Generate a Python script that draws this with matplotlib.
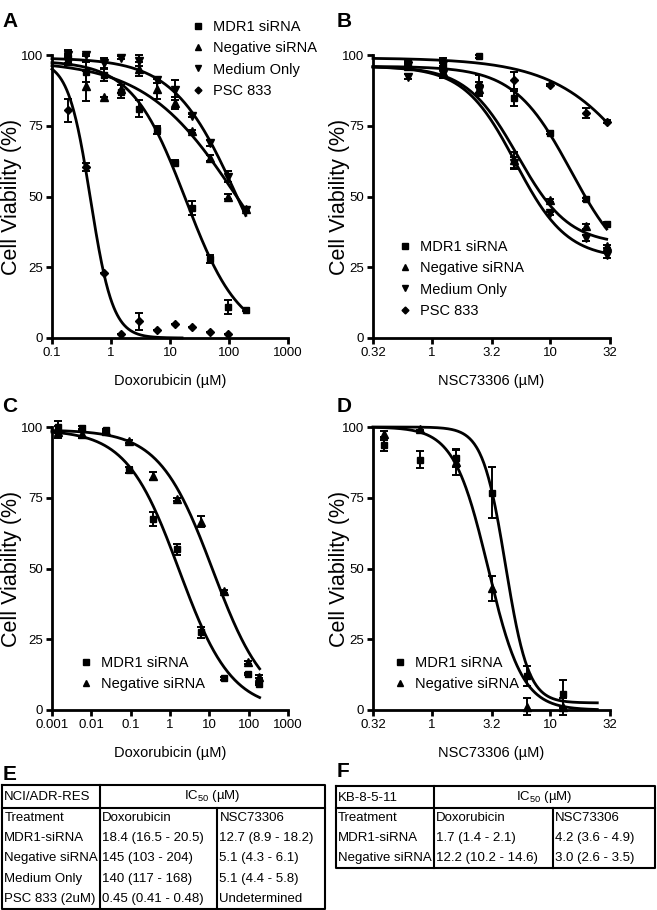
import matplotlib as mpl
mpl.use('agg')
import numpy as np
import matplotlib.pyplot as plt
from matplotlib import font_manager
from matplotlib.lines import Line2D

names = {f.name for f in font_manager.fontManager.ttflist}
narrow = 'Liberation Sans Narrow' if 'Liberation Sans Narrow' in names else 'Liberation Sans'
plt.rcParams['font.family'] = ['Liberation Sans', 'DejaVu Sans']
plt.rcParams['mathtext.fontset'] = 'custom'
plt.rcParams['mathtext.rm'] = 'Liberation Sans'
plt.rcParams['mathtext.default'] = 'regular'

# ---- panel A: NCI/ADR-RES, doxorubicin
dox_a = [0.19, 0.38, 0.75, 1.5, 3, 6, 12, 24, 48, 96, 192]
a_mdr1 = [99, 94, 93, 87, 81, 73.5, 62, 46, 28, 11, 10]
a_mdr1_err = [2.6, 3.5, 2.3, 2.3, 3, 1.5, 1, 2.4, 1.5, 2.4, 0.5]
a_neg = [98, 89, 85, 88, 95, 88, 83, 73, 63.5, 50, 45.5]
a_neg_err = [1, 5.3, 0, 1.5, 2.5, 3.5, 2, 0.5, 1, 1, 0.5]
a_med = [100, 100, 97, 99, 98, 91, 87.5, 78.5, 69, 57, 45.3]
a_med_err = [0.5, 0.5, 2, 0.5, 2, 1, 3.5, 0.5, 1, 2, 0.5]
dox_a_psc = [0.19, 0.38, 0.75, 1.5, 3, 6, 12, 24, 48, 96]
a_psc = [80.5, 60.5, 23, 1.4, 6, 3, 5, 4, 2, 1.4]
a_psc_err = [4, 1.5, 0, 0, 3, 0, 0, 0, 0, 0]
# fitted curves: top, bottom, midpoint, hill slope
fit_a_mdr1 = (98, 0, 18.4, 0.95)
fit_a_neg = (98, 0, 145, 0.55)
fit_a_med = (99, 0, 140, 0.8)
fit_a_psc = (98, 0, 0.45, 2.3)

# ---- panel B: NCI/ADR-RES, NSC73306
nsc_b = [0.63, 1.25, 2.5, 5, 10, 20, 30]
b_mdr1 = [97, 96.5, 99.6, 84.7, 72.6, 49, 40.4]
b_mdr1_err = [0.5, 1, 0.5, 2.6, 0.5, 0.5, 0.5]
b_neg = [96, 94, 88, 63, 48.6, 39.4, 32.4]
b_neg_err = [1, 2, 2.5, 2.9, 0.5, 1, 0.5]
b_med = [92.4, 93.3, 87.6, 61.8, 44, 35.3, 29.4]
b_med_err = [1, 1.5, 1, 2, 0.5, 1, 1]
b_psc = [97.6, 98, 89.4, 91, 89.4, 79.6, 76.5]
b_psc_err = [0.5, 1, 3.5, 3, 0.5, 1.8, 0.5]
fit_b_mdr1 = (96, 22, 15, 1.8)
fit_b_neg = (96, 33, 5.3, 2.0)
fit_b_med = (96, 28, 5.1, 2.0)
fit_b_psc = (99, 0, 90, 1.1)

# ---- panel C: KB-8-5-11, doxorubicin
dox_c = [0.0014, 0.0057, 0.023, 0.09, 0.37, 1.5, 6, 23, 94, 188]
c_mdr1 = [100, 99.8, 98.8, 84.7, 67.5, 56.8, 27.4, 11.2, 12.7, 9.2]
c_mdr1_err = [2, 0.5, 0.5, 1, 2.5, 2, 2, 0.5, 0.5, 0.5]
c_neg = [98.2, 97.6, 98.6, 95, 82.6, 74.4, 66.5, 42, 16.8, 11.8]
c_neg_err = [2, 1.5, 0.5, 0.5, 1.5, 0.5, 2, 0.5, 0.5, 0.5]
fit_c_mdr1 = (99, 0, 1.7, 0.65)
fit_c_neg = (99, 0, 12.2, 0.64)

# ---- panel D: KB-8-5-11, NSC73306
nsc_d = [0.4, 0.8, 1.6, 3.2, 6.4, 12.8]
d_mdr1 = [93.5, 88.5, 89, 76.7, 12, 5.6]
d_mdr1_err = [2, 3, 3, 9, 3.5, 5]
d_neg = [97.6, 99.4, 87.6, 43, 1.2, 1.2]
d_neg_err = [1, 0.5, 4.5, 4.5, 3, 3]
fit_d_mdr1 = (100, 2.5, 4.2, 4.5)
fit_d_neg = (100, 0, 3.0, 3.0)

# ---- tables
e_title = 'NCI/ADR-RES'
e_rows = ['Treatment', 'MDR1-siRNA', 'Negative siRNA', 'Medium Only', 'PSC 833 (2uM)']
e_dox = ['Doxorubicin', '18.4 (16.5 - 20.5)', '145 (103 - 204)', '140 (117 - 168)', '0.45 (0.41 - 0.48)']
e_nsc = ['NSC73306', '12.7 (8.9 - 18.2)', '5.1 (4.3 - 6.1)', '5.1 (4.4 - 5.8)', 'Undetermined']
f_title = 'KB-8-5-11'
f_rows = ['Treatment', 'MDR1-siRNA', 'Negative siRNA']
f_dox = ['Doxorubicin', '1.7 (1.4 - 2.1)', '12.2 (10.2 - 14.6)']
f_nsc = ['NSC73306', '4.2 (3.6 - 4.9)', '3.0 (2.6 - 3.5)']

labels4 = ['MDR1 siRNA', 'Negative siRNA', 'Medium Only', 'PSC 833']
markers = ['s', '^', 'v', 'D']
msizes = [5, 5.5, 5.5, 4]


def logistic(x, top, bottom, mid, hill):
    return bottom + (top - bottom) / (1 + (x / mid) ** hill)


W, H = 657, 910
fig = plt.figure(figsize=(W / 100, H / 100), dpi=100)


def px_axes(x0, x1, y0, y1):
    return fig.add_axes([x0 / W, 1 - y1 / H, (x1 - x0) / W, (y1 - y0) / H])


def setup(ax, xlim, xticks, xlabels, xlabel, ylab_x):
    ax.set_xscale('log')
    ax.set_xlim(*xlim)
    ax.set_ylim(0, 100)
    ax.set_xticks(xticks)
    ax.set_xticklabels(xlabels)
    ax.minorticks_off()
    ax.set_yticks([0, 25, 50, 75, 100])
    ax.spines['top'].set_visible(False)
    ax.spines['right'].set_visible(False)
    ax.spines['left'].set_linewidth(2)
    ax.spines['bottom'].set_linewidth(2)
    ax.tick_params(direction='out', length=4, width=2, pad=2.5, labelsize=9.5)
    for t in ax.get_xticklabels() + ax.get_yticklabels():
        t.set_fontfamily(narrow)
    ax.set_xlabel(xlabel, fontfamily=narrow, fontsize=10.5, labelpad=11)
    ax.set_ylabel('Cell Viability (%)', fontsize=15.5)
    ax.yaxis.set_label_coords(ylab_x, 0.5)


def series(ax, x, y, err, m, ms):
    ax.errorbar(x, y, yerr=err, fmt=m, color='k', ms=ms, capsize=3,
                elinewidth=1.4, capthick=1.4, clip_on=False, zorder=3)


def curve(ax, lo, hi, p):
    xs = np.logspace(np.log10(lo), np.log10(hi), 300)
    ax.plot(xs, logistic(xs, *p), 'k-', lw=2, clip_on=False)


def legend(ax, n, xc, yc):
    hs = [Line2D([], [], ls='none', marker=markers[i], color='k', ms=msizes[i] - 0.5)
          for i in range(n)]
    fs = 10.5 * 100 / 72
    ax.legend(hs, labels4[:n], loc='upper left', frameon=False,
              prop={'family': narrow, 'size': 10.5}, handlelength=1.0,
              handletextpad=0.53, labelspacing=0.5, borderpad=0, borderaxespad=0,
              bbox_to_anchor=((xc - fs / 2) / W, 1 - (yc - 7) / H),
              bbox_transform=fig.transFigure)


# A
axA = px_axes(52, 288, 55, 338)
setup(axA, (0.1, 1000), [0.1, 1, 10, 100, 1000], ['0.1', '1', '10', '100', '1000'],
      'Doxorubicin (µM)', -0.125)
curve(axA, 0.1, 192, fit_a_mdr1)
curve(axA, 0.1, 192, fit_a_neg)
curve(axA, 0.1, 192, fit_a_med)
curve(axA, 0.1, 16, fit_a_psc)
series(axA, dox_a, a_mdr1, a_mdr1_err, 's', 5)
series(axA, dox_a, a_neg, a_neg_err, '^', 5.5)
series(axA, dox_a, a_med, a_med_err, 'v', 5.5)
series(axA, dox_a_psc, a_psc, a_psc_err, 'D', 4)
legend(axA, 4, 198, 27)

# B
nsc_ticks = [0.32, 1, 3.2, 10, 32]
nsc_labels = ['0.32', '1', '3.2', '10', '32']
axB = px_axes(373, 610, 55, 338)
setup(axB, (0.32, 32), nsc_ticks, nsc_labels, 'NSC73306 (µM)', -0.098)
curve(axB, 0.32, 30, fit_b_mdr1)
curve(axB, 0.32, 30, fit_b_neg)
curve(axB, 0.32, 30, fit_b_med)
curve(axB, 0.32, 30, fit_b_psc)
series(axB, nsc_b, b_mdr1, b_mdr1_err, 's', 5)
series(axB, nsc_b, b_neg, b_neg_err, '^', 5.5)
series(axB, nsc_b, b_med, b_med_err, 'v', 5.5)
series(axB, nsc_b, b_psc, b_psc_err, 'D', 4)
legend(axB, 4, 405, 247)

# C
axC = px_axes(52, 288, 427, 710)
setup(axC, (0.001, 1000), [0.001, 0.01, 0.1, 1, 10, 100, 1000],
      ['0.001', '0.01', '0.1', '1', '10', '100', '1000'], 'Doxorubicin (µM)', -0.125)
curve(axC, 0.001, 190, fit_c_mdr1)
curve(axC, 0.001, 190, fit_c_neg)
series(axC, dox_c, c_mdr1, c_mdr1_err, 's', 5)
series(axC, dox_c, c_neg, c_neg_err, '^', 5.5)
legend(axC, 2, 86, 663)

# D
axD = px_axes(373, 610, 427, 710)
setup(axD, (0.32, 32), nsc_ticks, nsc_labels, 'NSC73306 (µM)', -0.098)
curve(axD, 0.32, 25, fit_d_mdr1)
curve(axD, 0.32, 25, fit_d_neg)
series(axD, nsc_d, d_mdr1, d_mdr1_err, 's', 5)
series(axD, nsc_d, d_neg, d_neg_err, '^', 5.5)
legend(axD, 2, 400, 663)


def table(ax, title, rows, dox, nsc, c1, c2):
    head = 1.12
    n = len(rows)
    ax.set_xlim(0, 1)
    ax.set_ylim(head + n, 0)
    ax.axis('off')
    kw = dict(color='k', lw=1.5, clip_on=False, solid_capstyle='projecting')
    ax.plot([0, 1, 1, 0, 0], [0, 0, head + n, head + n, 0], **kw)
    ax.plot([0, 1], [head, head], **kw)
    ax.plot([c1, c1], [0, head + n], **kw)
    ax.plot([c2, c2], [head, head + n], **kw)
    fs = 9.5
    ax.text(0.007, head / 2 + 0.05, title, fontsize=fs, va='center')
    ax.text((c1 + 1) / 2, head / 2, 'IC$_{50}$ (µM)', fontsize=fs, va='center', ha='center')
    for i in range(n):
        y = head + i + 0.5
        ax.text(0.007, y, rows[i], fontsize=fs, va='center')
        ax.text(c1 + 0.007, y, dox[i], fontsize=fs, va='center')
        ax.text(c2 + 0.007, y, nsc[i], fontsize=fs, va='center')


axE = px_axes(2, 325, 785, 909)
table(axE, e_title, e_rows, e_dox, e_nsc, 0.303, 0.666)
axF = px_axes(336, 655, 786, 868)
table(axF, f_title, f_rows, f_dox, f_nsc, 0.307, 0.680)

for lab, x, y in [('A', 2, 27), ('B', 337, 27), ('C', 2, 412), ('D', 337, 412),
                  ('E', 3, 780), ('F', 337, 777)]:
    fig.text(x / W, 1 - y / H, lab, fontsize=15, fontweight='bold', va='baseline')

plt.savefig('out.png', dpi=100)
